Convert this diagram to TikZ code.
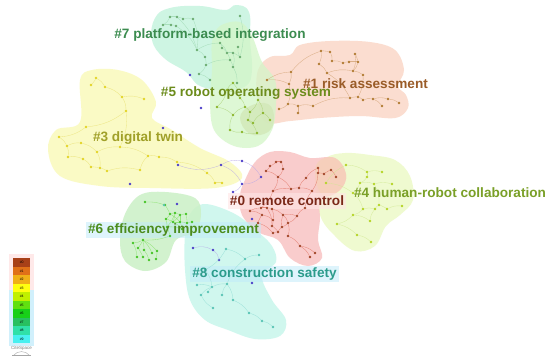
\documentclass[tikz,border=0pt]{standalone}
\usepackage{fontspec}
\setmainfont{Liberation Sans}
\begin{document}
\begin{tikzpicture}[x=1pt,y=-1pt,
  blob/.style={line width=0pt,draw=none,fill opacity=0.85},
  dot/.style={circle,inner sep=0pt,minimum size=2.6pt,draw=none},
  edge/.style={line width=0.35pt,draw opacity=0.75},
  lab/.style={font=\fontsize{13.6}{14}\selectfont\bfseries,inner sep=1pt},
  legrow/.style={draw=none,minimum width=17pt,minimum height=8.5pt,inner sep=0pt,font=\fontsize{3.5}{4}\selectfont}]
\useasboundingbox (0,0) rectangle (550,362);
\fill[white] (0,0) rectangle (550,362);
% ---------- cluster areas ----------
\definecolor{b7}{HTML}{C6F4DF}\definecolor{b5}{HTML}{D4F6C8}\definecolor{b1}{HTML}{FBD8C8}
\definecolor{b3}{HTML}{FAFABC}\definecolor{b0}{HTML}{F9C4C4}\definecolor{b4}{HTML}{EDFAC8}
\definecolor{b6}{HTML}{CBF0C6}\definecolor{b8}{HTML}{C8F6EC}
\fill[blob,b7] plot[smooth cycle,tension=0.7] coordinates {(152,40) (155,18) (170,8) (200,6) (225,10) (236,5) (249,12) (250,40) (252,70) (246,86) (225,90) (200,86) (186,72) (164,58)};
\fill[blob,b3] plot[smooth cycle,tension=0.6] coordinates {(80,80) (92,70) (118,70) (142,80) (156,102) (152,118) (172,130) (200,148) (230,162) (242,178) (215,188) (150,188) (100,186) (60,176) (48,150) (56,130) (80,122)};
\fill[blob,b1] plot[smooth cycle,tension=0.6] coordinates {(257,95) (258,70) (270,57) (290,55) (300,45) (330,41) (370,42) (395,50) (404,70) (398,86) (406,95) (408,108) (395,118) (360,116) (320,118) (290,121) (265,122)};
\fill[b5,fill opacity=0.75] plot[smooth cycle,tension=0.6] coordinates {(212,42) (220,26) (240,22) (252,36) (262,62) (275,80) (276,105) (272,130) (258,146) (234,146) (214,130) (210,100) (212,70)};
\fill[blob,fill=brown!12!b5,fill opacity=0.8] plot[smooth cycle,tension=0.7] coordinates {(240,118) (250,106) (268,104) (274,118) (268,132) (250,134)};
\fill[blob,b8] plot[smooth cycle,tension=0.6] coordinates {(185,235) (190,214) (205,204) (235,214) (258,232) (272,246) (276,262) (262,276) (272,300) (286,320) (280,336) (255,339) (228,330) (205,320) (190,300) (185,270)};
\fill[blob,b6] plot[smooth cycle,tension=0.6] coordinates {(125,214) (140,195) (165,192) (195,198) (201,214) (195,232) (176,240) (166,262) (145,271) (125,261) (120,240)};
\fill[blob,b4] plot[smooth cycle,tension=0.6] coordinates {(315,176) (326,158) (345,153) (370,155) (395,160) (410,176) (413,200) (400,215) (386,226) (375,246) (355,251) (335,236) (320,215)};
\fill[blob,b0] plot[smooth cycle,tension=0.6] coordinates {(245,180) (255,162) (270,152) (290,152) (310,158) (335,158) (346,175) (340,190) (321,201) (320,220) (318,240) (322,258) (308,266) (290,258) (278,240) (258,232) (242,215) (240,195)};
\fill[blob,fill=orange!8!b0!70!b4] plot[smooth cycle,tension=0.7] coordinates {(318,162) (335,158) (346,174) (340,190) (324,196) (316,180)};
% ---------- label backgrounds ----------
\fill[pink!40,opacity=0.6] (228,193) rectangle (346,209);
\fill[cyan!25,opacity=0.5] (86,222) rectangle (261,238);
\fill[cyan!25,opacity=0.5] (190,266) rectangle (339,282);
% ---------- nodes ----------
\definecolor{d7}{HTML}{6AAA6E}\definecolor{d5}{HTML}{8AB428}\definecolor{d1}{HTML}{B07A30}
\definecolor{d3}{HTML}{E2D424}\definecolor{d0}{HTML}{A04426}\definecolor{d4}{HTML}{B4D424}
\definecolor{d6}{HTML}{44C424}\definecolor{d8}{HTML}{58C4B4}\definecolor{dp}{HTML}{4A3CC8}
\definecolor{e7}{HTML}{9CD8B0}\definecolor{e5}{HTML}{A8D070}\definecolor{e1}{HTML}{D0A070}
\definecolor{e3}{HTML}{E8E070}\definecolor{e0}{HTML}{E07060}\definecolor{e4}{HTML}{D0E890}
\definecolor{e6}{HTML}{80E060}\definecolor{e8}{HTML}{90DCD4}\definecolor{ep}{HTML}{B4A4E8}
% cluster 7
\foreach \n/\x/\y in {1/170/17,2/177/17,3/183/19,4/193/19,5/163/25,6/171/25,7/176/26,8/240/16,9/197/50,10/205/57,11/206/65,12/199/74,13/210/80,14/220/43,15/227/53,16/233/53,17/240/57,18/230/60,19/233/67,20/237/83,21/222/48,22/238/47}
  \node[dot,fill=d7] (s\n) at (\x,\y) {};
% cluster 5
\foreach \n/\x/\y in {1/233/115,2/245/107,3/250/112,4/248/120,5/253/123,6/263/113,7/257/133,8/230/130,9/242/132,10/227/90,11/217/107,12/270/120,13/233/83,14/240/98,15/258/100}
  \node[dot,fill=d5] (f\n) at (\x,\y) {};
% cluster 1
\foreach \n/\x/\y in {1/321/51,2/330/52,3/355/54,4/332/61,5/319/64,6/343/63,7/349/62,8/358/62,9/353/71,10/363/75,11/327/73,12/291/72,13/267/80,14/289/84,15/279/109,16/288/104,17/298/106,18/313/106,19/298/113,20/350/98,21/363/100,22/373/99,23/388/99,24/399/103,25/382/106,26/358/97}
  \node[dot,fill=d1] (r\n) at (\x,\y) {};
% cluster 3
\foreach \n/\x/\y in {1/96/78,2/91/85,3/105/87,4/122/97,5/144/99,6/126/111,7/86/127,8/59/137,9/67/146,10/81/143,11/97/152,12/68/157,13/83/159,14/91/167,15/100/168,16/107/171,17/148/156,18/159/157,19/177/162,20/120/147,21/207/173,22/215/183,23/222/183,24/140/170}
  \node[dot,fill=d3] (y\n) at (\x,\y) {};
% cluster 0
\foreach \n/\x/\y in {1/276/162,2/281/162,3/270/166,4/266/171,5/283/169,6/278/177,7/273/191,8/291/189,9/299/188,10/306/178,11/318/168,12/318/173,13/324/174,14/331/170,15/336/177,16/312/191,17/250/211,18/261/208,19/267/208,20/272/209,21/262/215,22/283/215,23/297/216,24/305/208,25/273/220,26/288/223,27/272/226,28/282/227,29/278/232,30/273/233,31/288/236,32/300/246,33/315/253,34/310/257,35/258/223}
  \node[dot,fill=d0] (z\n) at (\x,\y) {};
% cluster 4
\foreach \n/\x/\y in {1/346/165,2/367/172,3/382/172,4/367/177,5/360/183,6/374/184,7/392/184,8/353/193,9/363/209,10/375/209,11/379/205,12/387/209,13/402/206,14/353/215,15/370/221,16/337/224,17/357/235,18/371/242,19/326/183}
  \node[dot,fill=d4] (h\n) at (\x,\y) {};
% cluster 6
\foreach \n/\x/\y in {1/145/202,2/165/205,3/170/214,4/175/213,5/180/215,6/186/214,7/166/219,8/173/222,9/180/222,10/187/223,11/192/222,12/167/227,13/182/229,14/170/236,15/143/240,16/133/243,17/138/248,18/144/250,19/152/253,20/157/251,21/143/257,22/149/260,23/156/259,24/137/257}
  \node[dot,fill=d6] (e\n) at (\x,\y) {};
% cluster 8
\foreach \n/\x/\y in {1/197/285,2/201/295,3/208/292,4/212/287,5/222/295,6/227/284,7/233/300,8/213/308,9/226/249,10/245/259,11/259/255,12/249/313,13/262/321,14/273/327,15/164/205,16/205/270}
  \node[dot,fill=d8] (c\n) at (\x,\y) {};
% bridging nodes
\foreach \n/\x/\y in {1/190/75,2/201/108,3/163/128,4/221/165,5/242/161,6/261/177,7/242/184,8/233/192,9/130/184,10/177/204,11/193/248,12/213/250,13/219/260,14/252/283,15/178/165,16/252/219}
  \node[dot,fill=dp] (p\n) at (\x,\y) {};
% ---------- links ----------
\foreach \a/\b in {1/2,2/3,3/4,5/6,6/7,1/5,7/9,4/9,9/10,10/11,11/12,12/13,2/9,14/15,15/16,16/17,15/18,18/19,16/19,14/21,21/15,17/22,19/20,11/18,8/17,9/14}
  \draw[edge,e7] (s\a) to[bend left=15] (s\b);
\foreach \a/\b in {1/2,2/3,3/4,4/5,5/6,6/12,4/7,7/9,9/8,8/1,10/13,10/11,11/1,13/14,14/2,15/6,15/3,10/14}
  \draw[edge,e5] (f\a) to[bend left=15] (f\b);
\foreach \a/\b in {1/2,2/4,1/5,4/6,6/7,7/8,3/8,3/9,8/9,9/10,5/11,11/9,12/14,12/1,13/14,14/16,16/15,16/17,17/18,17/19,18/20,20/26,26/21,21/22,22/23,23/24,22/25,11/20,10/26,13/12}
  \draw[edge,e1] (r\a) to[bend left=15] (r\b);
\foreach \a/\b in {1/2,1/3,3/4,4/5,4/6,6/7,7/8,8/9,9/10,10/11,9/12,12/13,13/14,14/15,15/16,11/20,20/17,17/18,18/19,19/21,21/22,22/23,16/24,24/17,6/20,11/15}
  \draw[edge,e3] (y\a) to[bend left=15] (y\b);
\foreach \a/\b in {1/2,1/3,3/4,2/5,5/6,4/6,6/7,7/8,8/9,9/10,10/11,11/12,12/13,13/14,14/15,9/16,7/18,17/18,18/19,19/20,20/22,17/21,21/25,25/27,27/29,29/28,28/22,22/23,23/24,24/16,26/31,31/32,32/33,32/34,20/25,19/27,26/28,30/29,35/21,6/8,22/26,23/26,12/16,35/30}
  \draw[edge,e0] (z\a) to[bend left=15] (z\b);
\foreach \a/\b in {1/2,2/3,2/4,4/5,5/6,6/7,5/8,8/9,9/10,10/11,11/12,12/13,9/14,14/15,14/16,16/17,17/18,19/1,19/8,6/11,15/10}
  \draw[edge,e4] (h\a) to[bend left=15] (h\b);
\foreach \a/\b in {1/2,2/3,3/4,4/5,5/6,3/7,7/8,8/9,9/10,10/11,7/12,12/13,8/13,4/8,5/9,6/10,9/13,12/14,14/15,15/16,15/17,15/18,15/19,15/20,17/21,18/22,20/23,16/24,3/9,4/12,5/8}
  \draw[edge,e6] (e\a) to[bend left=10] (e\b);
\foreach \a/\b in {1/4,2/4,3/4,4/6,5/6,6/7,8/2,9/10,10/11,6/10,7/12,12/13,13/14,9/16,16/4}
  \draw[edge,e8] (c\a) to[bend left=15] (c\b);
\foreach \a/\b in {4/5,5/6,4/7,7/8,6/7,11/12,12/13,4/15}
  \draw[edge,ep] (p\a) to[bend left=20] (p\b);
% ---------- cluster labels ----------
\node[lab,text={rgb,255:red,60;green,140;blue,80}] (l7) at (210,35) {\#7 platform-based integration};
\node[lab,text={rgb,255:red,154;green,92;blue,40}] (l1) at (365.5,84) {\#1 risk assessment};
\node[lab,text={rgb,255:red,108;green,140;blue,28}] (l5) at (246,93) {\#5 robot operating system};
\node[lab,text={rgb,255:red,160;green,160;blue,40}] (l3) at (138,138) {\#3 digital twin};
\node[lab,text={rgb,255:red,122;green,40;blue,24}] (l0) at (287,201) {\#0 remote control};
\node[lab,text={rgb,255:red,122;green,160;blue,40}] (l4) at (450,193) {\#4 human-robot collaboration};
\node[lab,text={rgb,255:red,76;green,140;blue,28}] (l6) at (173.5,230) {\#6 efficiency improvement};
\node[lab,text={rgb,255:red,44;green,156;blue,140}] (l8) at (264.5,274) {\#8 construction safety};
% ---------- legend ----------
\fill[pink!35] (9,254) rectangle (34,290);
\fill[cyan!18] (9,290) rectangle (34,346);
\foreach \i/\c in {0/A84018,1/E07018,2/F0B018,3/FFFF10,4/C0F000,5/60E010,6/18D018,7/28C060,8/30E0A8,9/48F0F0}{
  \definecolor{lc}{HTML}{\c}
  \node[legrow,fill=lc,anchor=north west] (leg\i) at (13,258+\i*8.5) {\#\i};
}
\node[font=\fontsize{4.5}{5}\selectfont,text=gray] (cs) at (21.5,348) {CiteSpace};
\draw[gray!70,line width=0.4pt] (14,355) .. controls (17,350.5) and (26,350.5) .. (29,355);
\draw[gray!70,line width=0.3pt] (12,355.5) -- (31,355.5);
\end{tikzpicture}
\end{document}
